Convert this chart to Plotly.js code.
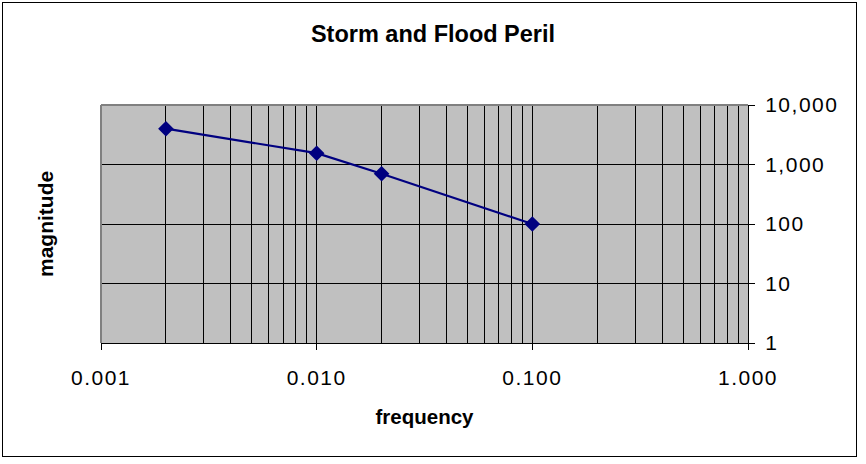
<!DOCTYPE html>
<html>
<head>
<meta charset="utf-8">
<script src="https://cdn.plot.ly/plotly-3.0.1.min.js"></script>
<style>
  html, body { margin: 0; padding: 0; background: #fff; }
  #wrap { position: relative; width: 866px; height: 464px; }
  #chart { position: absolute; left: 0; top: 0; width: 866px; height: 464px; }
  #frame { position: absolute; left: 2px; top: 2px; width: 853px; height: 453px; border: 1px solid #000; pointer-events: none; }
  #chart .xtick text, #chart .ytick text { letter-spacing: 1.5px; }
</style>
</head>
<body>
<div id="wrap">
  <div id="chart"></div>
  <div id="frame"></div>
</div>
<script>
// Data
const frequency = [0.002, 0.01, 0.02, 0.1];
const magnitude = [4000, 1550, 700, 100];

const xTickVals = [0.001, 0.01, 0.1, 1];
const xTickText = ['0.001', '0.010', '0.100', '1.000'];
const yTickVals = [1, 10, 100, 1000, 10000];
const yTickText = ['1', '10', '100', '1,000', '10,000'];

// minor gridlines at 2..9 of each decade
const xMinor = [];
for (let d = 0; d < xTickVals.length - 1; d++) {
  for (let m = 2; m <= 9; m++) xMinor.push(xTickVals[d] * m);
}

const font = 'Liberation Sans, Arial, sans-serif';

const trace = {
  x: frequency,
  y: magnitude,
  type: 'scatter',
  mode: 'lines+markers',
  line: { color: '#000080', width: 2.2 },
  marker: { symbol: 'diamond', size: 12, color: '#000080' },
  showlegend: false,
  hoverinfo: 'x+y'
};

const layout = {
  width: 866,
  height: 464,
  margin: { l: 101, r: 118, t: 105, b: 121 },
  paper_bgcolor: '#ffffff',
  plot_bgcolor: '#c0c0c0',
  font: { family: font, color: '#000', size: 21 },
  title: {
    text: '<b>Storm and Flood Peril</b>',
    font: { family: font, size: 23.5, color: '#000' },
    x: 0.5, xref: 'container', xanchor: 'center',
    y: 1 - 34 / 464, yref: 'container', yanchor: 'middle'
  },
  xaxis: {
    type: 'log',
    range: [Math.log10(0.001), Math.log10(1)],
    tickmode: 'array',
    tickvals: xTickVals,
    ticktext: xTickText,
    ticks: 'outside',
    ticklen: 6,
    tickcolor: '#000',
    ticklabelstandoff: 10,
    tickfont: { family: font, size: 21, color: '#000' },
    showline: true,
    linecolor: '#000',
    linewidth: 1,
    showgrid: true,
    gridcolor: '#000',
    gridwidth: 1,
    minor: { tickmode: 'array', tickvals: xMinor, showgrid: true, gridcolor: '#000', gridwidth: 1, ticks: '' },
    zeroline: false,
    title: { text: '<b>frequency</b>', font: { family: font, size: 20.5, color: '#000' }, standoff: 21 },
    fixedrange: true
  },
  yaxis: {
    type: 'log',
    side: 'right',
    range: [0, 4],
    tickmode: 'array',
    tickvals: yTickVals,
    ticktext: yTickText,
    ticks: 'outside',
    ticklen: 6,
    tickcolor: '#000',
    ticklabelstandoff: 6,
    tickfont: { family: font, size: 21, color: '#000' },
    showline: true,
    linecolor: '#000',
    linewidth: 1,
    showgrid: true,
    gridcolor: '#000',
    gridwidth: 1,
    zeroline: false,
    fixedrange: true
  },
  shapes: [
    { type: 'line', xref: 'paper', yref: 'paper', x0: 0, x1: 1, y0: 1, y1: 1, line: { color: '#808080', width: 2 } },
    { type: 'line', xref: 'paper', yref: 'paper', x0: 0, x1: 0, y0: 0, y1: 1, line: { color: '#808080', width: 2 } }
  ],
  annotations: [
    {
      text: '<b>magnitude</b>',
      xref: 'paper', yref: 'paper',
      x: -56 / 647, y: 0.5,
      xanchor: 'center', yanchor: 'middle',
      textangle: -90,
      showarrow: false,
      font: { family: font, size: 21, color: '#000' }
    }
  ]
};

Plotly.newPlot('chart', [trace], layout, { displayModeBar: false, staticPlot: true });
</script>
</body>
</html>
